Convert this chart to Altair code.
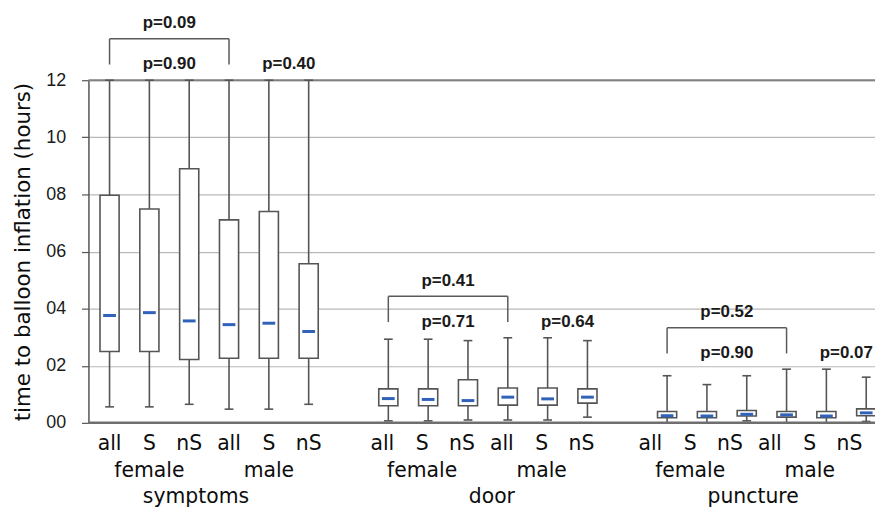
import altair as alt
import pandas as pd

groups = ["symptoms", "door", "puncture"]
sexes = ["female", "male"]
subsets = ["all", "S", "nS"]

# one value per box: group -> sex -> subset
whisker_low = [0.56, 0.56, 0.65, 0.48, 0.48, 0.65,
               0.07, 0.07, 0.10, 0.10, 0.10, 0.20,
               0.00, 0.00, 0.07, 0.00, 0.00, 0.05]
q1 = [2.50, 2.50, 2.22, 2.26, 2.26, 2.26,
      0.60, 0.60, 0.60, 0.62, 0.62, 0.69,
      0.18, 0.18, 0.24, 0.20, 0.18, 0.25]
median = [3.76, 3.86, 3.57, 3.44, 3.49, 3.20,
          0.85, 0.82, 0.78, 0.90, 0.84, 0.90,
          0.25, 0.24, 0.30, 0.28, 0.24, 0.35]
q3 = [7.97, 7.49, 8.90, 7.11, 7.40, 5.57,
      1.19, 1.19, 1.51, 1.22, 1.22, 1.19,
      0.40, 0.40, 0.43, 0.40, 0.40, 0.49]
whisker_high = [12.0, 12.0, 12.0, 12.0, 12.0, 12.0,
                2.93, 2.93, 2.88, 2.98, 2.98, 2.88,
                1.65, 1.34, 1.65, 1.88, 1.88, 1.60]

p_between_sexes = ["p=0.09", "p=0.41", "p=0.52"]
p_female = ["p=0.90", "p=0.71", "p=0.90"]
p_male = ["p=0.40", "p=0.64", "p=0.07"]

# ---- layout helpers (slot units) ----
label_shift = [0.0, -0.15, -0.42]
group_label_pos = [2.17, 2.6, 2.16]
W, H = 792, 345
YT = "time to balloon inflation (hours)"
STROKE = "#555555"

rows = []
i = 0
for g, gname in enumerate(groups):
    for s, sname in enumerate(sexes):
        for k, sub in enumerate(subsets):
            slot = g * 7 + s * 3 + k
            rows.append(dict(group=gname, sex=sname, sub=sub, slot=slot,
                             lo=whisker_low[i], q1=q1[i], med=median[i],
                             q3=q3[i], hi=whisker_high[i],
                             lab=slot + label_shift[g]))
            i += 1
boxes = pd.DataFrame(rows)

segs = []
for r in rows:
    segs.append(dict(x=r["slot"], x2=r["slot"], y=r["lo"], y2=r["hi"]))
    segs.append(dict(x=r["slot"] - 0.11, x2=r["slot"] + 0.11, y=r["lo"], y2=r["lo"]))
    segs.append(dict(x=r["slot"] - 0.11, x2=r["slot"] + 0.11, y=r["hi"], y2=r["hi"]))
whisk = pd.DataFrame(segs)

brk = []
ptxt = []
for g in range(3):
    top = max(whisker_high[g * 6:(g + 1) * 6])
    xl, xr = g * 7, g * 7 + 3
    leg_b, leg_t = top + 0.55, top + 1.45
    brk.append(dict(x=xl, x2=xr, y=leg_t, y2=leg_t))
    brk.append(dict(x=xl, x2=xl, y=leg_b, y2=leg_t))
    brk.append(dict(x=xr, x2=xr, y=leg_b, y2=leg_t))
    ptxt.append(dict(x=xl + 1.5, y=top + 2.0, t=p_between_sexes[g]))
    ptxt.append(dict(x=xl + 1.5, y=top + 0.55, t=p_female[g]))
    ptxt.append(dict(x=xr + 1.5, y=top + 0.55, t=p_male[g]))
brk = pd.DataFrame(brk)
ptxt = pd.DataFrame(ptxt)

sexlab = pd.DataFrame([dict(x=g * 7 + s * 3 + 1 + label_shift[g], t=sexes[s])
                       for g in range(3) for s in range(2)])
grplab = pd.DataFrame([dict(x=g * 7 + group_label_pos[g], t=groups[g]) for g in range(3)])

xs = alt.Scale(domain=[-0.53, -0.53 + W / 40.1], nice=False, zero=False)
ys = alt.Scale(domain=[0, 12], nice=False, zero=False)

def X(f):
    return alt.X(f, type="quantitative", scale=xs, axis=None)

def Y(f):
    return alt.Y(f, type="quantitative", scale=ys, title=YT,
                 axis=alt.Axis(values=[0, 2, 4, 6, 8, 10, 12],
                               labelExpr="datum.value < 10 ? '0' + datum.value : '' + datum.value"))

grid_top = alt.Chart(pd.DataFrame({"v": [12]})).mark_rule(color="#808080", strokeWidth=2).encode(y=Y("v"))
grid_bot = alt.Chart(pd.DataFrame({"v": [0]})).mark_rule(color="#6f6f6f", strokeWidth=2.5).encode(y=Y("v"))

whisk_l = alt.Chart(whisk).mark_rule(color=STROKE, strokeWidth=1.6).encode(
    x=X("x"), x2="x2", y=Y("y"), y2="y2")
box_l = alt.Chart(boxes).transform_calculate(
    xa="datum.slot - 0.24", xb="datum.slot + 0.24").mark_rect(
    fill="white", stroke=STROKE, strokeWidth=1.6).encode(
    x=X("xa"), x2="xb", y=Y("q1"), y2="q3")
med_l = alt.Chart(boxes).transform_calculate(
    xa="datum.slot - 0.16", xb="datum.slot + 0.16").mark_rule(
    color="#2f62b8", strokeWidth=3).encode(
    x=X("xa"), x2="xb", y=Y("med"))

brk_l = alt.Chart(brk).mark_rule(color="#5a5a5a", strokeWidth=1.5).encode(
    x=X("x"), x2="x2", y=Y("y"), y2="y2")
ptxt_l = alt.Chart(ptxt).mark_text(font="Liberation Sans", fontWeight="bold",
                                  fontSize=17, color="#1a1a1a", baseline="middle").encode(
    x=X("x"), y=Y("y"), text="t:N")

LBL = dict(font="DejaVu Sans", fontSize=20.5, color="#0d0d0d", baseline="middle")
sub_l = alt.Chart(boxes).mark_text(**LBL).encode(
    x=X("lab"), y=alt.value(H + 21), text="sub:N")
sex_l = alt.Chart(sexlab).mark_text(**LBL).encode(
    x=X("x"), y=alt.value(H + 49), text="t:N")
grp_l = alt.Chart(grplab).mark_text(**LBL).encode(
    x=X("x"), y=alt.value(H + 75), text="t:N")

chart = alt.layer(grid_top, whisk_l, box_l, med_l, grid_bot, brk_l, ptxt_l,
                  sub_l, sex_l, grp_l).properties(
    width=W, height=H,
    autosize=alt.AutoSizeParams(type="none"),
    padding={"left": 81, "top": 71, "right": 0, "bottom": 83},
).configure_view(stroke=None).configure_axisY(
    grid=True, gridColor="#b9b9b9", gridWidth=1.2,
    domainColor="#555555", domainWidth=1.5,
    tickColor="#555555", tickSize=7, tickWidth=1.2,
    labelFont="Liberation Sans", labelFontSize=18, labelColor="#1a1a1a", labelPadding=16,
    titleFont="DejaVu Sans", titleFontSize=21.5, titleFontWeight="normal",
    titleColor="#0d0d0d", titlePadding=11,
)

chart.save("out.html", embed_options={"renderer": "svg", "actions": False})
